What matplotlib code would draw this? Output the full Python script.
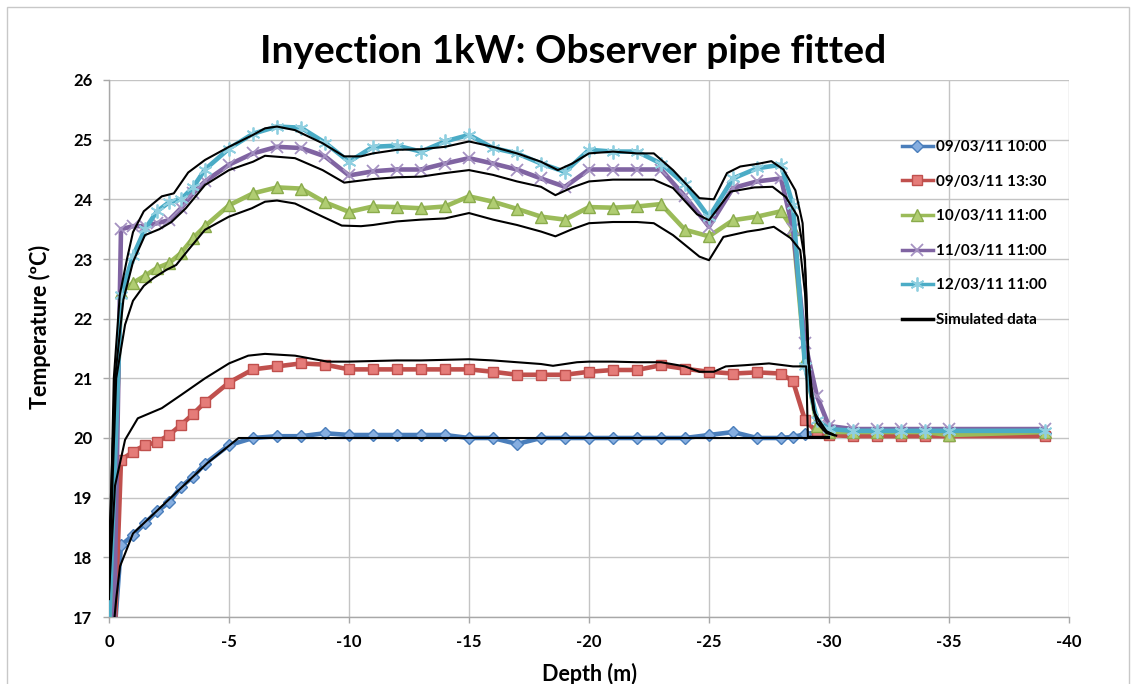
import matplotlib
matplotlib.use("Agg")
import matplotlib.pyplot as plt
from matplotlib.patches import Rectangle

plt.rcParams['font.family'] = ['Lato', 'DejaVu Sans']

# ---------------- data ----------------
obs_labels = ["09/03/11 10:00", "09/03/11 13:30", "10/03/11 11:00",
              "11/03/11 11:00", "12/03/11 11:00"]

depth_obs = [0, -0.5, -1, -1.5, -2, -2.5, -3, -3.5, -4, -5, -6, -7, -8, -9, -10,
             -11, -12, -13, -14, -15, -16, -17, -18, -19, -20, -21, -22, -23, -24,
             -25, -26, -27, -28, -28.5, -29, -29.5, -30, -31, -32, -33, -34, -35, -39]

t_blue = [15.5, 18.2, 18.37, 18.57, 18.77, 18.92, 19.18, 19.35, 19.57, 19.88, 20.0,
          20.03, 20.03, 20.08, 20.05, 20.05, 20.05, 20.05, 20.05, 20.0, 20.0, 19.9,
          20.0, 20.0, 20.0, 20.0, 20.0, 20.0, 20.0, 20.05, 20.1, 20.0, 20.0, 20.02,
          20.06, 20.1, 20.1, 20.08, 20.08, 20.08, 20.08, 20.08, 20.08]
t_red = [14.0, 19.63, 19.77, 19.88, 19.93, 20.05, 20.22, 20.4, 20.6, 20.93, 21.15,
         21.2, 21.25, 21.23, 21.15, 21.15, 21.15, 21.15, 21.15, 21.15, 21.11, 21.06,
         21.06, 21.06, 21.11, 21.14, 21.14, 21.22, 21.16, 21.11, 21.08, 21.1, 21.08,
         20.95, 20.3, 20.1, 20.05, 20.03, 20.03, 20.03, 20.03, 20.03, 20.03]
t_green = [16.5, 22.45, 22.6, 22.72, 22.85, 22.93, 23.1, 23.35, 23.55, 23.9, 24.1,
           24.2, 24.18, 23.95, 23.79, 23.88, 23.87, 23.85, 23.88, 24.05, 23.96, 23.84,
           23.71, 23.66, 23.87, 23.86, 23.88, 23.92, 23.49, 23.38, 23.65, 23.71, 23.8,
           23.5, 21.3, 20.2, 20.1, 20.1, 20.1, 20.1, 20.1, 20.05, 20.1]
t_purple = [12.0, 23.5, 23.55, 23.55, 23.6, 23.65, 23.85, 24.1, 24.3, 24.58, 24.77,
            24.88, 24.86, 24.72, 24.4, 24.47, 24.5, 24.5, 24.6, 24.69, 24.6, 24.5,
            24.35, 24.21, 24.5, 24.5, 24.5, 24.5, 24.05, 23.54, 24.19, 24.3, 24.35,
            23.5, 21.6, 20.7, 20.2, 20.15, 20.15, 20.15, 20.15, 20.15, 20.15]
t_cyan = [16.8, 22.4, 23.05, 23.5, 23.8, 23.95, 24.0, 24.2, 24.5, 24.85, 25.1,
          25.22, 25.2, 24.95, 24.63, 24.88, 24.9, 24.8, 24.97, 25.08, 24.86, 24.77,
          24.6, 24.46, 24.83, 24.8, 24.8, 24.6, 24.25, 23.7, 24.35, 24.52, 24.58,
          23.9, 21.2, 20.3, 20.15, 20.12, 20.12, 20.12, 20.12, 20.12, 20.12]

sim1_depth = [0, -0.2, -0.45, -0.75, -1.0, -1.45, -2.2, -2.7, -3.3, -4.0, -5.0, -6.0,
              -6.5, -7.0, -7.75, -8.9, -9.8, -10.5, -11, -12, -13, -14, -15, -16, -17,
              -18, -18.7, -19.3, -20, -21, -22, -22.7, -23.5, -24.6, -25.2, -25.75,
              -26.3, -27.1, -27.6, -28.1, -28.6, -28.9, -29.05, -29.15, -29.25, -29.5,
              -29.9, -30.3]
sim1_t = [17.3, 21.0, 22.4, 23.0, 23.45, 23.8, 24.05, 24.1, 24.45, 24.66, 24.88, 25.08,
          25.19, 25.22, 25.16, 24.94, 24.72, 24.72, 24.77, 24.83, 24.84, 24.88, 24.97,
          24.88, 24.77, 24.63, 24.49, 24.6, 24.77, 24.8, 24.77, 24.77, 24.49, 24.02,
          24.0, 24.44, 24.55, 24.6, 24.64, 24.5, 24.15, 23.6, 22.5, 21.3, 20.7, 20.25,
          20.08, 20.04]

sim2_depth = [0, -0.25, -0.6, -1.0, -1.5, -2.1, -2.6, -3.2, -4.0, -5.0, -6.0, -6.5,
              -7.75, -8.9, -9.8, -11, -12, -13, -14, -15, -16, -17, -18, -18.6, -19.3,
              -20, -21, -22, -22.7, -23.5, -24.5, -25.0, -25.9, -26.9, -27.65, -28.2,
              -28.7, -29.0, -29.14, -29.35, -29.76, -30.2]
sim2_t = [18.1, 21.0, 22.32, 22.95, 23.4, 23.5, 23.62, 23.85, 24.24, 24.49, 24.63,
          24.73, 24.69, 24.49, 24.28, 24.34, 24.37, 24.38, 24.44, 24.49, 24.41, 24.3,
          24.21, 24.07, 24.2, 24.3, 24.33, 24.33, 24.33, 24.19, 23.75, 23.65, 24.13,
          24.2, 24.21, 24.04, 23.71, 22.98, 21.31, 20.47, 20.14, 20.05]

sim3_depth = [0, -0.3, -0.67, -1.0, -1.45, -1.85, -2.4, -2.8, -3.3, -4.0, -5.0, -5.95,
              -6.5, -7.0, -7.75, -8.9, -9.7, -10.5, -11, -12, -13, -14, -15, -16, -17,
              -18, -18.6, -19.3, -20, -21, -22, -22.7, -23.5, -24.6, -25.0, -25.6,
              -26.6, -27.1, -27.7, -28.4, -28.8, -29.0, -29.14, -29.4, -29.9, -30.2]
sim3_t = [17.6, 21.0, 21.9, 22.3, 22.55, 22.68, 22.82, 22.9, 23.15, 23.49, 23.71,
          23.85, 23.96, 23.98, 23.93, 23.71, 23.56, 23.55, 23.57, 23.63, 23.66, 23.68,
          23.77, 23.66, 23.57, 23.46, 23.38, 23.5, 23.6, 23.62, 23.62, 23.6, 23.4,
          23.04, 22.98, 23.37, 23.46, 23.49, 23.54, 23.35, 23.15, 22.43, 21.31, 20.41,
          20.11, 20.05]

sim4_depth = [0, -0.25, -0.67, -1.2, -2.2, -3.0, -4.0, -5.0, -5.8, -6.5, -7.75, -9.1,
              -10, -11, -12, -13, -14, -15, -16, -17, -18, -18.5, -19.5, -20, -21, -22,
              -23, -24, -24.6, -25.2, -25.7, -26.5, -27.5, -28.5, -29.05, -29.12, -30.0]
sim4_t = [17.4, 19.2, 19.97, 20.33, 20.5, 20.72, 21.0, 21.25, 21.38, 21.41, 21.38,
          21.28, 21.28, 21.29, 21.3, 21.3, 21.31, 21.32, 21.3, 21.27, 21.24, 21.21,
          21.27, 21.28, 21.28, 21.27, 21.27, 21.2, 21.11, 21.11, 21.2, 21.22, 21.25,
          21.2, 21.2, 20.02, 20.02]

sim5_depth = [0, -0.3, -0.46, -1.0, -4.1, -5.4, -29.2, -30.0]
sim5_t = [16.0, 17.3, 17.85, 18.4, 19.58, 20.0, 20.0, 20.0]

x_ticks = [0, -5, -10, -15, -20, -25, -30, -35, -40]
x_tick_labels = ["0", "-5", "-10", "-15", "-20", "-25", "-30", "-35", "-40"]
y_ticks = [17, 18, 19, 20, 21, 22, 23, 24, 25, 26]

# ---------------- styles ----------------
W, H = 1136, 684
fig = plt.figure(figsize=(W / 100, H / 100), dpi=100)
fig.patches.append(Rectangle((7 / W, -0.05), (1129 - 7) / W, 1 - 7 / H + 0.05,
                             transform=fig.transFigure, fill=False,
                             edgecolor='#c8c8c8', lw=1.0))
ax = fig.add_axes([109 / W, 1 - 617 / H, 960 / W, 537 / H])

styles = [
    dict(color='#4a7ebb', marker='D', ms=6.5, mfc='#86aee0', mec='#4a7ebb'),
    dict(color='#c0504d', marker='s', ms=7.5, mfc='#e57c79', mec='#c0504d'),
    dict(color='#9bbb59', marker='^', ms=8.5, mfc='#b0cd72', mec='#8aab4c'),
    dict(color='#8064a2', marker='x', ms=8, mfc='#9a84ba', mec='#a592c2', mew=1.3),
    dict(color='#4bacc6', marker=(6, 2, 0), ms=10, mfc='#8fcfe0', mec='#8fcfe0', mew=1.3),
]
obs_series = [t_blue, t_red, t_green, t_purple, t_cyan]
for lab, t, st in zip(obs_labels, obs_series, styles):
    ax.plot(depth_obs, t, lw=3.3, label=lab, zorder=3, **st)

sims = [(sim1_depth, sim1_t), (sim2_depth, sim2_t), (sim3_depth, sim3_t),
        (sim4_depth, sim4_t), (sim5_depth, sim5_t)]
for i, (d, t) in enumerate(sims):
    ax.plot(d, t, color='black', lw=1.5, zorder=4,
            label='Simulated data' if i == 0 else None)

ax.set_xlim(0, -40)
ax.set_ylim(17, 26)
ax.set_xticks(x_ticks)
ax.set_xticklabels(x_tick_labels)
ax.set_yticks(y_ticks)
ax.grid(True, color='#c4c4c4', lw=1.0, zorder=0)
for s in ['top', 'right']:
    ax.spines[s].set_visible(False)
for s in ['left', 'bottom']:
    ax.spines[s].set_color('#a8a8a8')
    ax.spines[s].set_linewidth(1.0)
ax.tick_params(axis='both', direction='out', length=4, width=1.0, color='#a8a8a8',
               labelsize=12, pad=8)
for lbl in ax.get_xticklabels() + ax.get_yticklabels():
    lbl.set_fontweight('bold')

fig.text(573 / W, 1 - 63 / H, "Inyection 1kW: Observer pipe fitted", ha='center',
         va='baseline', fontsize=28, fontweight='bold')
fig.text(40 / W, 1 - 327 / H, "Temperature (ºC)", rotation=90, ha='center',
         va='center', fontsize=15.5, fontweight='bold')
fig.text(590 / W, 1 - 674 / H, "Depth (m)", ha='center', va='center',
         fontsize=15.5, fontweight='bold')

leg = ax.legend(loc='upper left', bbox_to_anchor=(902 / W, 1 - 140 / H),
                bbox_transform=fig.transFigure, frameon=False, numpoints=1,
                handlelength=2.0, handletextpad=0.2, labelspacing=1.35,
                borderpad=0, borderaxespad=0,
                prop=dict(weight='bold', size=11))
for h in leg.get_lines():
    h.set_linewidth(2.5)

fig.savefig("out.png", dpi=100)
